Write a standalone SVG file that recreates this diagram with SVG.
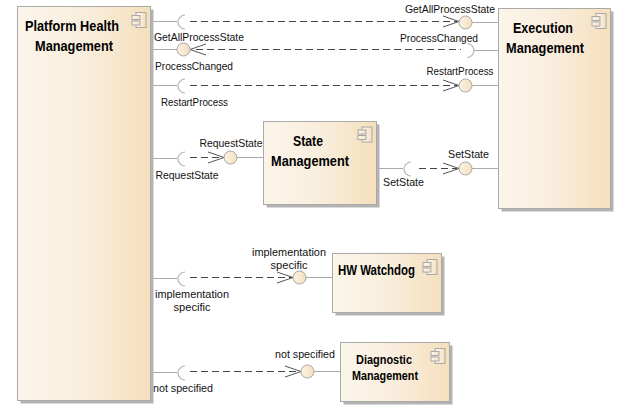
<svg xmlns="http://www.w3.org/2000/svg" width="628" height="419" viewBox="0 0 628 419">
<style>
.shadow{fill:#b3b3b3}
.box{fill:url(#g);stroke:#a9a9a9;stroke-width:1}
.icon{fill:url(#g);stroke:#a8a8a8;stroke-width:1}
.title{font:bold 14px "Liberation Sans",Arial,sans-serif;fill:#000;text-anchor:middle}
.small{font-size:12.500px}
.lab{font:10.400px "Liberation Sans",Arial,sans-serif;fill:#111;text-anchor:middle}
.wire{stroke:#a9a9a9;stroke-width:1;fill:none}
.dash{stroke:#444;stroke-width:1;fill:none;stroke-dasharray:7 4}
.arrow{stroke:#555;stroke-width:1;fill:none}
.sock{stroke:#b5b5b5;stroke-width:1.200;fill:none}
.ball{fill:url(#b);stroke:#a9a9a9;stroke-width:1}
</style>
<defs>
<linearGradient id="g" x1="0" y1="0" x2="1" y2="0"><stop offset="0" stop-color="#fbf5ea"/><stop offset="0.5" stop-color="#f9eedd"/><stop offset="1" stop-color="#f5dfbc"/></linearGradient>
<linearGradient id="b" x1="0" y1="0" x2="1" y2="0"><stop offset="0" stop-color="#fbf3e6"/><stop offset="1" stop-color="#f5dfbc"/></linearGradient>
<g id="ic"><rect class="icon" x="-10" y="0" width="10" height="15"/><rect class="icon" x="-14" y="3" width="8" height="4"/><rect class="icon" x="-14" y="8.500" width="8" height="4"/></g>
</defs>
<g id="connectors">
<path class="wire" d="M153 21.500H177M472 22.500H498M153 49.500H177M474 50.500H498M153 85.500H177M472 85.500H498M153 158.500H177M237 157.500H263M153 278.500H177M306 277.500H332M153 372.500H177M314 371.500H340M376.500 168.500H403M472 168.500H498"/>
<path class="sock" d="M185 15A7 7 0 0 0 185 29M185 79A7 7 0 0 0 185 93M185 152A7 7 0 0 0 185 166M185 272A7 7 0 0 0 185 286M185 366A7 7 0 0 0 185 380M411 162A7 7 0 0 0 411 176M467 43.500A7 7 0 0 1 467 57.500"/>
<path class="dash" d="M190 21.500H457M196 49.500H461M190 85.500H457M190 157.500H225M190 277.500H292M190 371.500H300M419 168.500H457"/>
<path class="arrow" d="M443 16L459 21.500L443 27M443 80L459 85.500L443 91M208 152L224 157.500L208 163M277 272L293 277.500L277 283M285 366L301 371.500L285 377M443 163L459 168.500L443 174M206 44L190 49.500L206 55"/>
<circle class="ball" cx="465.500" cy="22.500" r="6.500"/><circle class="ball" cx="183.500" cy="49.500" r="6.500"/><circle class="ball" cx="465.500" cy="85.500" r="6.500"/><circle class="ball" cx="230.500" cy="157.500" r="6.500"/><circle class="ball" cx="465.500" cy="168.500" r="6.500"/><circle class="ball" cx="299.500" cy="277.500" r="6.500"/><circle class="ball" cx="307.500" cy="371.500" r="6.500"/>
<text class="lab" x="450" y="12.500" textLength="90" lengthAdjust="spacingAndGlyphs">GetAllProcessState</text>
<text class="lab" x="199" y="41" textLength="90" lengthAdjust="spacingAndGlyphs">GetAllProcessState</text>
<text class="lab" x="439" y="42" textLength="78" lengthAdjust="spacingAndGlyphs">ProcessChanged</text>
<text class="lab" x="194" y="70" textLength="78" lengthAdjust="spacingAndGlyphs">ProcessChanged</text>
<text class="lab" x="460" y="75" textLength="67" lengthAdjust="spacingAndGlyphs">RestartProcess</text>
<text class="lab" x="194.500" y="106" textLength="67" lengthAdjust="spacingAndGlyphs">RestartProcess</text>
<text class="lab" x="231" y="147" textLength="63" lengthAdjust="spacingAndGlyphs">RequestState</text>
<text class="lab" x="187" y="179" textLength="63" lengthAdjust="spacingAndGlyphs">RequestState</text>
<text class="lab" x="468.500" y="158" textLength="41" lengthAdjust="spacingAndGlyphs">SetState</text>
<text class="lab" x="403.500" y="186" textLength="41" lengthAdjust="spacingAndGlyphs">SetState</text>
<text class="lab" x="289" y="256" textLength="74" lengthAdjust="spacingAndGlyphs">implementation</text>
<text class="lab" x="289" y="269" textLength="37" lengthAdjust="spacingAndGlyphs">specific</text>
<text class="lab" x="192" y="298" textLength="74" lengthAdjust="spacingAndGlyphs">implementation</text>
<text class="lab" x="192" y="311" textLength="37" lengthAdjust="spacingAndGlyphs">specific</text>
<text class="lab" x="305" y="358" textLength="60" lengthAdjust="spacingAndGlyphs">not specified</text>
<text class="lab" x="183" y="392" textLength="60" lengthAdjust="spacingAndGlyphs">not specified</text>
</g>
<g id="platform-health-management"><rect class="shadow" x="20.500" y="9.500" width="133" height="394"/><rect class="box" x="17.500" y="6.500" width="133" height="394"/><use href="#ic" x="146" y="12.500"/><text class="title" x="72" y="31" textLength="94" lengthAdjust="spacingAndGlyphs">Platform Health</text><text class="title" x="74" y="51" textLength="78" lengthAdjust="spacingAndGlyphs">Management</text></g>
<g id="execution-management"><rect class="shadow" x="501.500" y="11.500" width="112" height="200"/><rect class="box" x="498.500" y="8.500" width="112" height="200"/><use href="#ic" x="606" y="13.500"/><text class="title" x="543" y="33" textLength="60" lengthAdjust="spacingAndGlyphs">Execution</text><text class="title" x="545" y="53" textLength="78" lengthAdjust="spacingAndGlyphs">Management</text></g>
<g id="state-management"><rect class="shadow" x="266.500" y="124.500" width="113" height="83"/><rect class="box" x="263.500" y="121.500" width="113" height="83"/><use href="#ic" x="372" y="127"/><text class="title" x="308" y="146" textLength="30" lengthAdjust="spacingAndGlyphs">State</text><text class="title" x="310" y="166" textLength="78" lengthAdjust="spacingAndGlyphs">Management</text></g>
<g id="hw-watchdog"><rect class="shadow" x="335.500" y="256.500" width="109" height="59"/><rect class="box" x="332.500" y="253.500" width="109" height="59"/><use href="#ic" x="437" y="259.500"/><text class="title" x="376.500" y="275" textLength="77" lengthAdjust="spacingAndGlyphs">HW Watchdog</text></g>
<g id="diagnostic-management"><rect class="shadow" x="343.500" y="345.500" width="109" height="59"/><rect class="box" x="340.500" y="342.500" width="109" height="59"/><use href="#ic" x="445" y="348.500"/><text class="title small" x="384" y="364" textLength="56" lengthAdjust="spacingAndGlyphs">Diagnostic</text><text class="title small" x="385" y="380" textLength="66" lengthAdjust="spacingAndGlyphs">Management</text></g>
</svg>
